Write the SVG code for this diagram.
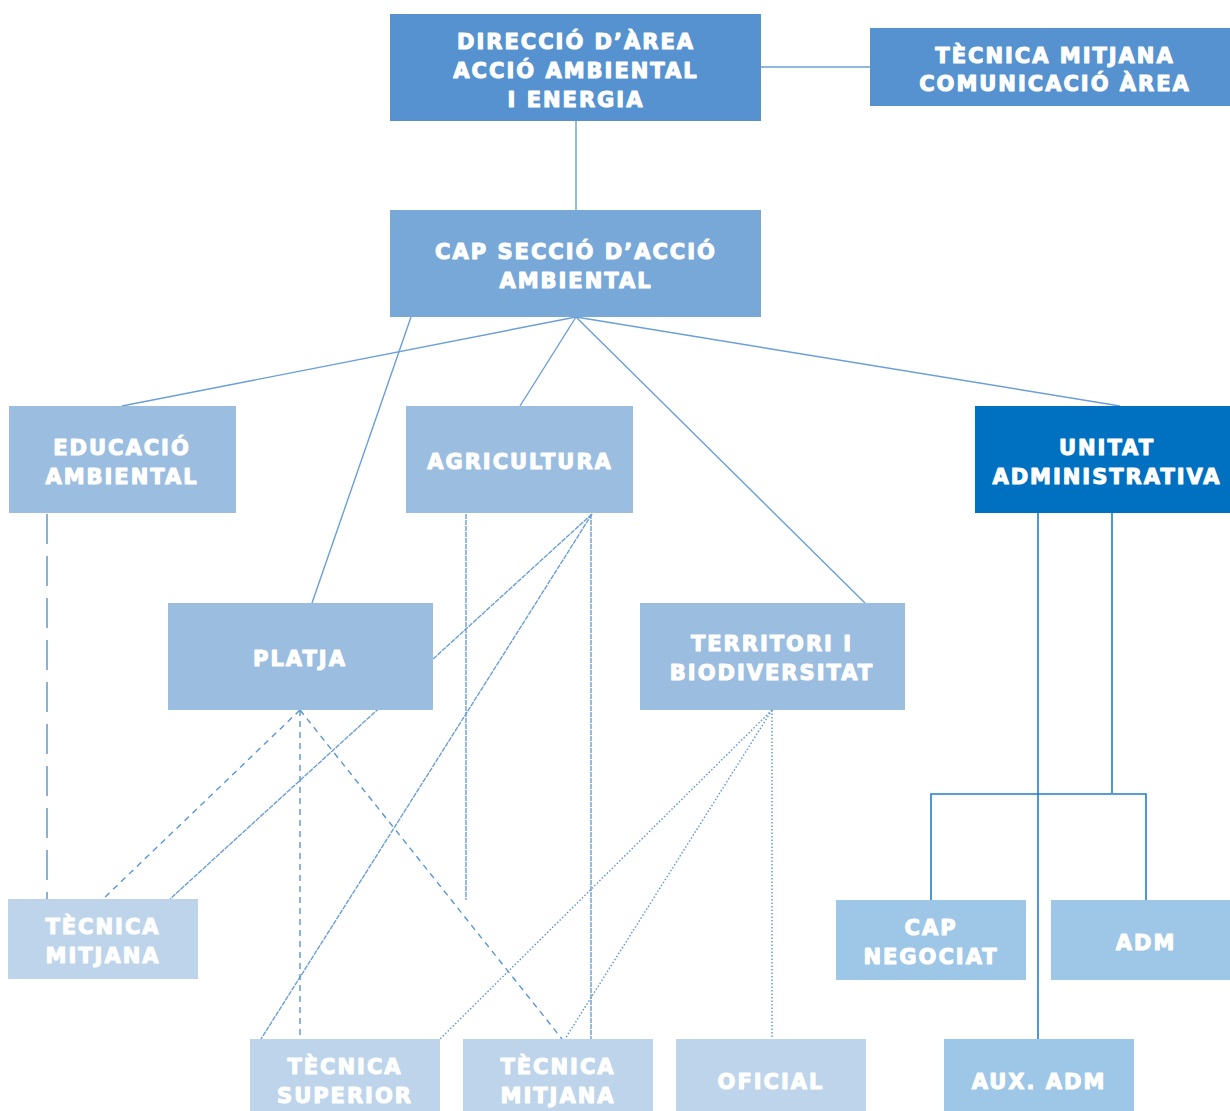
<svg xmlns="http://www.w3.org/2000/svg" width="1230" height="1111" viewBox="0 0 1230 1111">
<style>
text{font-family:"DejaVu Sans","Liberation Sans",sans-serif;font-weight:bold;font-size:21px;fill:#ffffff;stroke:#ffffff;stroke-width:1.1px;stroke-linejoin:round;text-anchor:middle;letter-spacing:2px}
.c1{fill:#5592CF}.c2{fill:#78A8D8}.c3{fill:#9BBDE0}.c4{fill:#0070C0}.c5{fill:#BDD4EA}.c6{fill:#9DC6E7}
.l{stroke:#6A9FD8;stroke-width:1.4;fill:none}
.agr{stroke:#6A9FD8;stroke-width:1.4;fill:none;stroke-dasharray:5 1}
.pla{stroke:#5B95D4;stroke-width:1.4;fill:none;stroke-dasharray:6 5}
.ter{stroke:#5B95D4;stroke-width:1.4;fill:none;stroke-dasharray:1.5 2}
.edu{stroke:#5B8FC8;stroke-width:1.4;fill:none;stroke-dasharray:30 12}
.adm{stroke:#1F7FCC;stroke-width:1.6;fill:none}
</style>
<g id="connectors">
<line class="l" x1="761" y1="67" x2="870" y2="67"/>
<line class="l" x1="576" y1="121" x2="576" y2="210"/>
<line class="l" x1="576" y1="317" x2="122" y2="406"/>
<line class="l" x1="576" y1="317" x2="520" y2="406"/>
<line class="l" x1="576" y1="317" x2="865" y2="603"/>
<line class="l" x1="576" y1="317" x2="1120" y2="406"/>
<line class="l" x1="411" y1="317" x2="312" y2="603"/>
<line class="edu" x1="47" y1="514" x2="47" y2="899"/>
<line class="agr" x1="466" y1="514" x2="466" y2="900"/>
<line class="agr" x1="591" y1="514" x2="591" y2="1039"/>
<line class="agr" x1="592" y1="514" x2="170" y2="899"/>
<line class="agr" x1="592" y1="514" x2="261" y2="1039"/>
<line class="pla" x1="300" y1="710" x2="103" y2="899"/>
<line class="pla" x1="300" y1="710" x2="300" y2="1039"/>
<line class="pla" x1="300" y1="710" x2="562" y2="1039"/>
<line class="ter" x1="772" y1="710" x2="440" y2="1039"/>
<line class="ter" x1="772" y1="710" x2="565" y2="1039"/>
<line class="ter" x1="772" y1="710" x2="772" y2="1039"/>
<line class="adm" x1="1038" y1="513" x2="1038" y2="1039"/>
<line class="adm" x1="1112" y1="513" x2="1112" y2="793"/>
<polyline class="adm" points="931,900 931,794 1146,794 1146,900"/>
</g>
<g id="direccio"><rect class="c1" x="390" y="14" width="371" height="107"/><text x="576" y="49">DIRECCIÓ D’ÀREA</text><text x="576" y="78">ACCIÓ AMBIENTAL</text><text x="576" y="107">I ENERGIA</text></g>
<g id="tecnica-comunicacio"><rect class="c1" x="870" y="28" width="360" height="78"/><text x="1055" y="63">TÈCNICA MITJANA</text><text x="1055" y="91">COMUNICACIÓ ÀREA</text></g>
<g id="cap-seccio"><rect class="c2" x="390" y="210" width="371" height="107"/><text x="576" y="259">CAP SECCIÓ D’ACCIÓ</text><text x="576" y="288">AMBIENTAL</text></g>
<g id="educacio"><rect class="c3" x="9" y="406" width="227" height="107"/><text x="122" y="455">EDUCACIÓ</text><text x="122" y="484">AMBIENTAL</text></g>
<g id="agricultura"><rect class="c3" x="406" y="406" width="227" height="107"/><text x="520" y="469">AGRICULTURA</text></g>
<g id="unitat"><rect class="c4" x="975" y="406" width="255" height="107"/><text x="1107" y="455">UNITAT</text><text x="1107" y="484">ADMINISTRATIVA</text></g>
<g id="platja"><rect class="c3" x="168" y="603" width="265" height="107"/><text x="300" y="666">PLATJA</text></g>
<g id="territori"><rect class="c3" x="640" y="603" width="265" height="107"/><text x="772" y="651">TERRITORI I</text><text x="772" y="680">BIODIVERSITAT</text></g>
<g id="tecnica-mitjana-1"><rect class="c5" x="8" y="899" width="190" height="80"/><text x="103" y="934">TÈCNICA</text><text x="103" y="963">MITJANA</text></g>
<g id="cap-negociat"><rect class="c6" x="836" y="900" width="190" height="80"/><text x="931" y="935">CAP</text><text x="931" y="964">NEGOCIAT</text></g>
<g id="adm"><rect class="c6" x="1051" y="900" width="179" height="80"/><text x="1146" y="950">ADM</text></g>
<g id="tecnica-superior"><rect class="c5" x="250" y="1039" width="190" height="72"/><text x="345" y="1074">TÈCNICA</text><text x="345" y="1103">SUPERIOR</text></g>
<g id="tecnica-mitjana-2"><rect class="c5" x="463" y="1039" width="190" height="72"/><text x="558" y="1074">TÈCNICA</text><text x="558" y="1103">MITJANA</text></g>
<g id="oficial"><rect class="c5" x="676" y="1039" width="190" height="72"/><text x="771" y="1089">OFICIAL</text></g>
<g id="aux-adm"><rect class="c6" x="944" y="1039" width="190" height="72"/><text x="1039" y="1089">AUX. ADM</text></g>
</svg>
